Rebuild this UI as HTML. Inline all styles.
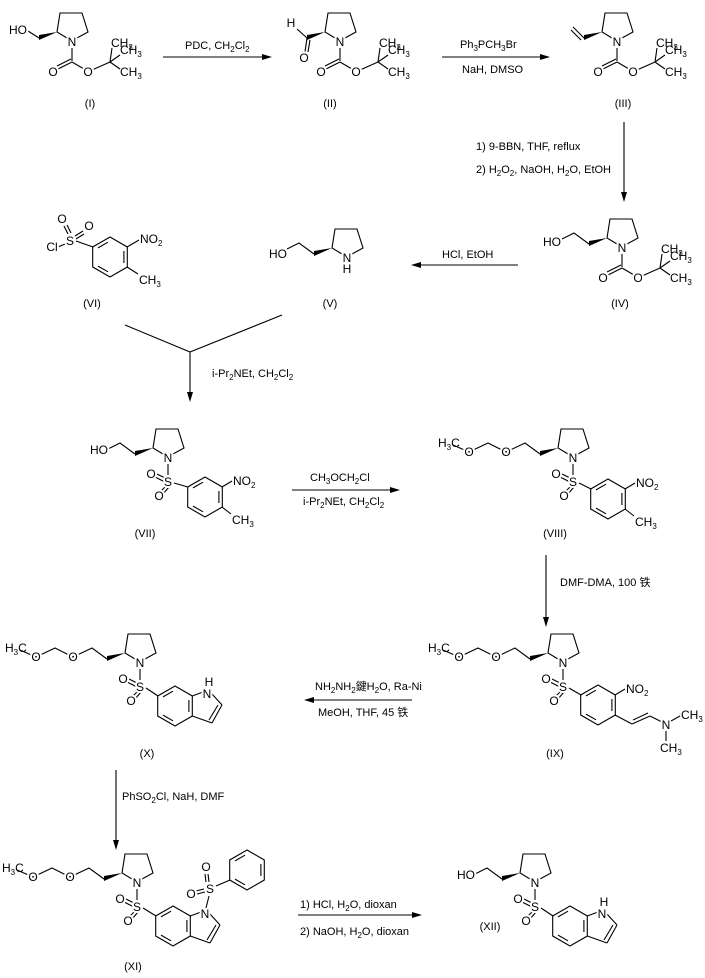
<!DOCTYPE html>
<html><head><meta charset="utf-8"><style>
body{margin:0;background:#fff}
svg{display:block}
text{font-family:"Liberation Sans","Noto Sans CJK SC",sans-serif;font-size:12px;fill:#000}
.a{text-anchor:middle;paint-order:stroke;stroke:#fff;stroke-width:4px}
.r{font-size:11px}
.l{font-size:11px;text-anchor:middle}
line,path,polyline{stroke:#000;stroke-width:1.1;fill:none}
.w{fill:#000;stroke:none}
</style></head><body>
<svg width="705" height="978" viewBox="0 0 705 978" xmlns="http://www.w3.org/2000/svg">
<defs>
<g id="pyr"><path d="M-5,-4 L-15,-10 L-12,-29 L10,-29 L16,-10 L5,-4"/><polygon class="w" points="-15,-10 -33,-7 -33,-2"/></g>
<g id="boc"><line x1="0" y1="6" x2="0" y2="19"/><line x1="0" y1="20" x2="-14" y2="27"/><line x1="-1" y1="17" x2="-15" y2="24"/><line x1="0" y1="20" x2="12" y2="27"/><line x1="20" y1="28" x2="38" y2="20"/><line x1="38" y1="20" x2="40" y2="6"/><line x1="38" y1="20" x2="48" y2="13"/><line x1="38" y1="20" x2="48" y2="27"/></g>
<g id="bz"><polygon points="0,-20 17.3,-10 17.3,10 0,20 -17.3,10 -17.3,-10" style="fill:none;stroke:#000;stroke-width:1.1"/><line x1="13.9" y1="-6" x2="13.9" y2="6"/><line x1="-2" y1="14.8" x2="-12" y2="9.1"/><line x1="-12" y1="-9.1" x2="-2" y2="-14.8"/></g>
<g id="hoch"><polyline points="-33,-4 -48,-15 -60,-9"/></g>
<g id="mom"><polyline points="-33,-4 -48,-15 -67,-6 -85,-15 -104,-6 -120,-13"/></g>
<g id="so2"><line x1="0" y1="6" x2="0" y2="17"/><line x1="-3" y1="20" x2="-13" y2="15"/><line x1="-3" y1="24" x2="-13" y2="19"/><line x1="-2" y1="28" x2="-8" y2="34"/><line x1="1" y1="29" x2="-5" y2="36"/></g>
<g id="ind"><line x1="17.3" y1="-10" x2="28" y2="-14"/><line x1="37" y1="-12" x2="47" y2="-1"/><line x1="47" y1="-1" x2="37" y2="17"/><line x1="43" y1="-1" x2="34" y2="14"/><line x1="37" y1="17" x2="17.3" y2="10"/></g>
</defs>

<!-- I -->
<use href="#pyr" x="72" y="42"/><use href="#boc" x="72" y="42"/>
<line x1="39" y1="38" x2="28" y2="31"/>
<text class="a" x="72" y="46">N</text><text class="a" x="18" y="34">HO</text>
<text class="a" x="53" y="76">O</text><text class="a" x="88" y="76">O</text>
<text x="111" y="47">CH<tspan font-size="8" dy="3">3</tspan></text><text x="120" y="54">CH<tspan font-size="8" dy="3">3</tspan></text><text x="120" y="76">CH<tspan font-size="8" dy="3">3</tspan></text>
<text class="l" x="90" y="107">(I)</text>

<!-- II -->
<use href="#pyr" x="340" y="42"/><use href="#boc" x="340" y="42"/>
<line x1="307" y1="38" x2="297" y2="29"/><line x1="307" y1="38" x2="305" y2="52"/><line x1="310" y1="40" x2="308" y2="52"/>
<text class="a" x="340" y="46">N</text><text class="a" x="291" y="27">H</text><text class="a" x="304" y="62">O</text>
<text class="a" x="321" y="76">O</text><text class="a" x="356" y="76">O</text>
<text x="379" y="47">CH<tspan font-size="8" dy="3">3</tspan></text><text x="388" y="54">CH<tspan font-size="8" dy="3">3</tspan></text><text x="388" y="76">CH<tspan font-size="8" dy="3">3</tspan></text>
<text class="l" x="330" y="107">(II)</text>

<!-- III -->
<use href="#pyr" x="617" y="42"/><use href="#boc" x="617" y="42"/>
<line x1="584" y1="38" x2="573" y2="27"/><line x1="581" y1="40" x2="571" y2="30"/>
<text class="a" x="617" y="46">N</text>
<text class="a" x="598" y="76">O</text><text class="a" x="633" y="76">O</text>
<text x="656" y="47">CH<tspan font-size="8" dy="3">3</tspan></text><text x="665" y="54">CH<tspan font-size="8" dy="3">3</tspan></text><text x="665" y="76">CH<tspan font-size="8" dy="3">3</tspan></text>
<text class="l" x="623" y="107">(III)</text>

<!-- IV -->
<use href="#pyr" x="622" y="248"/><use href="#boc" x="622" y="248"/><use href="#hoch" x="622" y="248"/>
<text class="a" x="622" y="252">N</text><text class="a" x="552" y="246">HO</text>
<text class="a" x="603" y="282">O</text><text class="a" x="638" y="282">O</text>
<text x="661" y="253">CH<tspan font-size="8" dy="3">3</tspan></text><text x="670" y="260">CH<tspan font-size="8" dy="3">3</tspan></text><text x="670" y="282">CH<tspan font-size="8" dy="3">3</tspan></text>
<text class="l" x="620" y="307">(IV)</text>

<!-- V -->
<use href="#pyr" x="347" y="258"/><use href="#hoch" x="347" y="258"/>
<text class="a" x="347" y="262">N</text><text class="a" x="347" y="273">H</text><text class="a" x="278" y="258">HO</text>
<text class="l" x="330" y="307">(V)</text>

<!-- VI -->
<use href="#bz" x="110" y="257"/>
<line x1="93" y1="247" x2="76" y2="241"/><line x1="65" y1="244" x2="58" y2="247"/>
<line x1="68" y1="234" x2="64" y2="226"/><line x1="71" y1="233" x2="67" y2="225"/>
<line x1="75" y1="236" x2="83" y2="231"/><line x1="76" y1="239" x2="84" y2="234"/>
<text class="a" x="70" y="245">S</text><text class="a" x="52" y="251">Cl</text><text class="a" x="62" y="223">O</text><text class="a" x="89" y="230">O</text>
<line x1="127" y1="247" x2="139" y2="240"/><text x="140" y="243">NO<tspan font-size="8" dy="3">2</tspan></text>
<line x1="127" y1="267" x2="138" y2="274"/><text x="139" y="284">CH<tspan font-size="8" dy="3">3</tspan></text>
<text class="l" x="92" y="307">(VI)</text>

<!-- VII -->
<use href="#pyr" x="168" y="458"/><use href="#hoch" x="168" y="458"/><use href="#so2" x="168" y="458"/><use href="#bz" x="205" y="497"/>
<line x1="174" y1="483" x2="188" y2="487"/>
<text class="a" x="168" y="462">N</text><text class="a" x="99" y="454">HO</text><text class="a" x="168" y="486">S</text><text class="a" x="151" y="478">O</text><text class="a" x="159" y="500">O</text>
<line x1="222" y1="487" x2="232" y2="481"/><text x="233" y="485">NO<tspan font-size="8" dy="3">2</tspan></text>
<line x1="222" y1="507" x2="231" y2="514"/><text x="232" y="524">CH<tspan font-size="8" dy="3">3</tspan></text>
<text class="l" x="145" y="537">(VII)</text>

<!-- VIII -->
<use href="#pyr" x="573" y="458"/><use href="#mom" x="573" y="458"/><use href="#so2" x="573" y="458"/><use href="#bz" x="608" y="499"/>
<line x1="579" y1="483" x2="591" y2="489"/>
<text class="a" x="573" y="462">N</text><text class="a" x="573" y="486">S</text><text class="a" x="556" y="478">O</text><text class="a" x="564" y="500">O</text>
<text class="a" x="506" y="456">O</text><text class="a" x="469" y="456">O</text>
<text x="438" y="447">H<tspan font-size="8" dy="3">3</tspan><tspan dy="-3">C</tspan></text>
<line x1="625" y1="489" x2="635" y2="483"/><text x="636" y="487">NO<tspan font-size="8" dy="3">2</tspan></text>
<line x1="625" y1="509" x2="634" y2="516"/><text x="635" y="526">CH<tspan font-size="8" dy="3">3</tspan></text>
<text class="l" x="555" y="537">(VIII)</text>

<!-- IX -->
<use href="#pyr" x="563" y="663"/><use href="#mom" x="563" y="663"/><use href="#so2" x="563" y="663"/><use href="#bz" x="598" y="705"/>
<line x1="569" y1="688" x2="581" y2="695"/>
<text class="a" x="563" y="667">N</text><text class="a" x="563" y="691">S</text><text class="a" x="546" y="683">O</text><text class="a" x="554" y="705">O</text>
<text class="a" x="496" y="661">O</text><text class="a" x="459" y="661">O</text>
<text x="428" y="652">H<tspan font-size="8" dy="3">3</tspan><tspan dy="-3">C</tspan></text>
<line x1="615" y1="695" x2="625" y2="689"/><text x="626" y="693">NO<tspan font-size="8" dy="3">2</tspan></text>
<line x1="615" y1="715" x2="632" y2="724"/><line x1="632" y1="724" x2="650" y2="716"/><line x1="633" y1="720" x2="648" y2="713"/><line x1="650" y1="716" x2="662" y2="722"/>
<text class="a" x="666" y="729">N</text><line x1="671" y1="721" x2="680" y2="716"/><line x1="666" y1="731" x2="666" y2="741"/>
<text x="681" y="719">CH<tspan font-size="8" dy="3">3</tspan></text><text x="660" y="752">CH<tspan font-size="8" dy="3">3</tspan></text>
<text class="l" x="555" y="757">(IX)</text>

<!-- X -->
<use href="#pyr" x="140" y="663"/><use href="#mom" x="140" y="663"/><use href="#so2" x="140" y="663"/><use href="#bz" x="175" y="706"/><use href="#ind" x="175" y="706"/>
<line x1="146" y1="688" x2="158" y2="696"/>
<text class="a" x="140" y="667">N</text><text class="a" x="140" y="691">S</text><text class="a" x="123" y="683">O</text><text class="a" x="131" y="705">O</text>
<text class="a" x="73" y="661">O</text><text class="a" x="36" y="661">O</text>
<text x="5" y="652">H<tspan font-size="8" dy="3">3</tspan><tspan dy="-3">C</tspan></text>
<text class="a" x="207" y="698">N</text><text class="a" x="209" y="686">H</text>
<text class="l" x="147" y="757">(X)</text>

<!-- XI -->
<use href="#pyr" x="137" y="883"/><use href="#mom" x="137" y="883"/><use href="#so2" x="137" y="883"/><use href="#bz" x="173" y="926"/><use href="#ind" x="173" y="926"/>
<line x1="143" y1="908" x2="156" y2="916"/>
<text class="a" x="137" y="887">N</text><text class="a" x="137" y="911">S</text><text class="a" x="120" y="903">O</text><text class="a" x="128" y="925">O</text>
<text class="a" x="70" y="881">O</text><text class="a" x="33" y="881">O</text>
<text x="2" y="872">H<tspan font-size="8" dy="3">3</tspan><tspan dy="-3">C</tspan></text>
<text class="a" x="205" y="918">N</text>
<line x1="206" y1="908" x2="209" y2="896"/>
<text class="a" x="210" y="893">S</text>
<line x1="206" y1="882" x2="205" y2="874"/><line x1="209" y1="882" x2="208" y2="874"/>
<line x1="204" y1="889" x2="196" y2="891"/><line x1="205" y1="892" x2="197" y2="894"/>
<text class="a" x="206" y="871">O</text><text class="a" x="191" y="898">O</text>
<line x1="216" y1="886" x2="230" y2="880"/>
<use href="#bz" x="247" y="870"/>
<text class="l" x="133" y="970">(XI)</text>

<!-- XII -->
<use href="#pyr" x="535" y="883"/><use href="#hoch" x="535" y="883"/><use href="#so2" x="535" y="883"/><use href="#bz" x="570" y="926"/><use href="#ind" x="570" y="926"/>
<line x1="541" y1="908" x2="553" y2="916"/>
<text class="a" x="535" y="887">N</text><text class="a" x="466" y="879">HO</text><text class="a" x="535" y="911">S</text><text class="a" x="518" y="903">O</text><text class="a" x="526" y="925">O</text>
<text class="a" x="602" y="918">N</text><text class="a" x="604" y="906">H</text>
<text class="l" x="490" y="930">(XII)</text>

<!-- arrows -->
<line x1="163" y1="57" x2="265" y2="57"/><polygon class="w" points="272,57 262,54 262,60"/>
<text class="r" x="185" y="49">PDC, CH<tspan font-size="8" dy="3">2</tspan><tspan dy="-3">Cl</tspan><tspan font-size="8" dy="3">2</tspan></text>

<line x1="442" y1="57" x2="543" y2="57"/><polygon class="w" points="550,57 540,54 540,60"/>
<text class="r" x="460" y="48">Ph<tspan font-size="8" dy="3">3</tspan><tspan dy="-3">PCH</tspan><tspan font-size="8" dy="3">3</tspan><tspan dy="-3">Br</tspan></text>
<text class="r" x="462" y="73">NaH, DMSO</text>

<line x1="624" y1="122" x2="624" y2="195"/><polygon class="w" points="624,202 621,192 627,192"/>
<text class="r" x="476" y="150">1) 9-BBN, THF, reflux</text>
<text class="r" x="476" y="173">2) H<tspan font-size="8" dy="3">2</tspan><tspan dy="-3">O</tspan><tspan font-size="8" dy="3">2</tspan><tspan dy="-3">, NaOH, H</tspan><tspan font-size="8" dy="3">2</tspan><tspan dy="-3">O, EtOH</tspan></text>

<line x1="518" y1="265" x2="418" y2="265"/><polygon class="w" points="411,265 421,262 421,268"/>
<text class="r" x="442" y="258">HCl, EtOH</text>

<line x1="125" y1="325" x2="190" y2="352"/><line x1="282" y1="315" x2="190" y2="352"/>
<line x1="190" y1="352" x2="190" y2="395"/><polygon class="w" points="190,402 187,392 193,392"/>
<text class="r" x="212" y="377">i-Pr<tspan font-size="8" dy="3">2</tspan><tspan dy="-3">NEt, CH</tspan><tspan font-size="8" dy="3">2</tspan><tspan dy="-3">Cl</tspan><tspan font-size="8" dy="3">2</tspan></text>

<line x1="292" y1="490" x2="393" y2="490"/><polygon class="w" points="400,490 390,487 390,493"/>
<text class="r" x="310" y="481">CH<tspan font-size="8" dy="3">3</tspan><tspan dy="-3">OCH</tspan><tspan font-size="8" dy="3">2</tspan><tspan dy="-3">Cl</tspan></text>
<text class="r" x="303" y="505">i-Pr<tspan font-size="8" dy="3">2</tspan><tspan dy="-3">NEt, CH</tspan><tspan font-size="8" dy="3">2</tspan><tspan dy="-3">Cl</tspan><tspan font-size="8" dy="3">2</tspan></text>

<line x1="546" y1="555" x2="546" y2="620"/><polygon class="w" points="546,627 543,617 549,617"/>
<text class="r" x="560" y="586">DMF-DMA, 100 铁</text>

<line x1="412" y1="700" x2="311" y2="700"/><polygon class="w" points="304,700 314,697 314,703"/>
<text class="r" x="315" y="690">NH<tspan font-size="8" dy="3">2</tspan><tspan dy="-3">NH</tspan><tspan font-size="8" dy="3">2</tspan><tspan dy="-3">鍵H</tspan><tspan font-size="8" dy="3">2</tspan><tspan dy="-3">O, Ra-Ni</tspan></text>
<text class="r" x="318" y="716">MeOH, THF, 45 铁</text>

<line x1="116" y1="770" x2="116" y2="843"/><polygon class="w" points="116,850 113,840 119,840"/>
<text class="r" x="122" y="800">PhSO<tspan font-size="8" dy="3">2</tspan><tspan dy="-3">Cl, NaH, DMF</tspan></text>

<line x1="298" y1="915" x2="415" y2="915"/><polygon class="w" points="422,915 412,912 412,918"/>
<text class="r" x="300" y="908">1) HCl, H<tspan font-size="8" dy="3">2</tspan><tspan dy="-3">O, dioxan</tspan></text>
<text class="r" x="300" y="935">2) NaOH, H<tspan font-size="8" dy="3">2</tspan><tspan dy="-3">O, dioxan</tspan></text>
</svg>
</body></html>
